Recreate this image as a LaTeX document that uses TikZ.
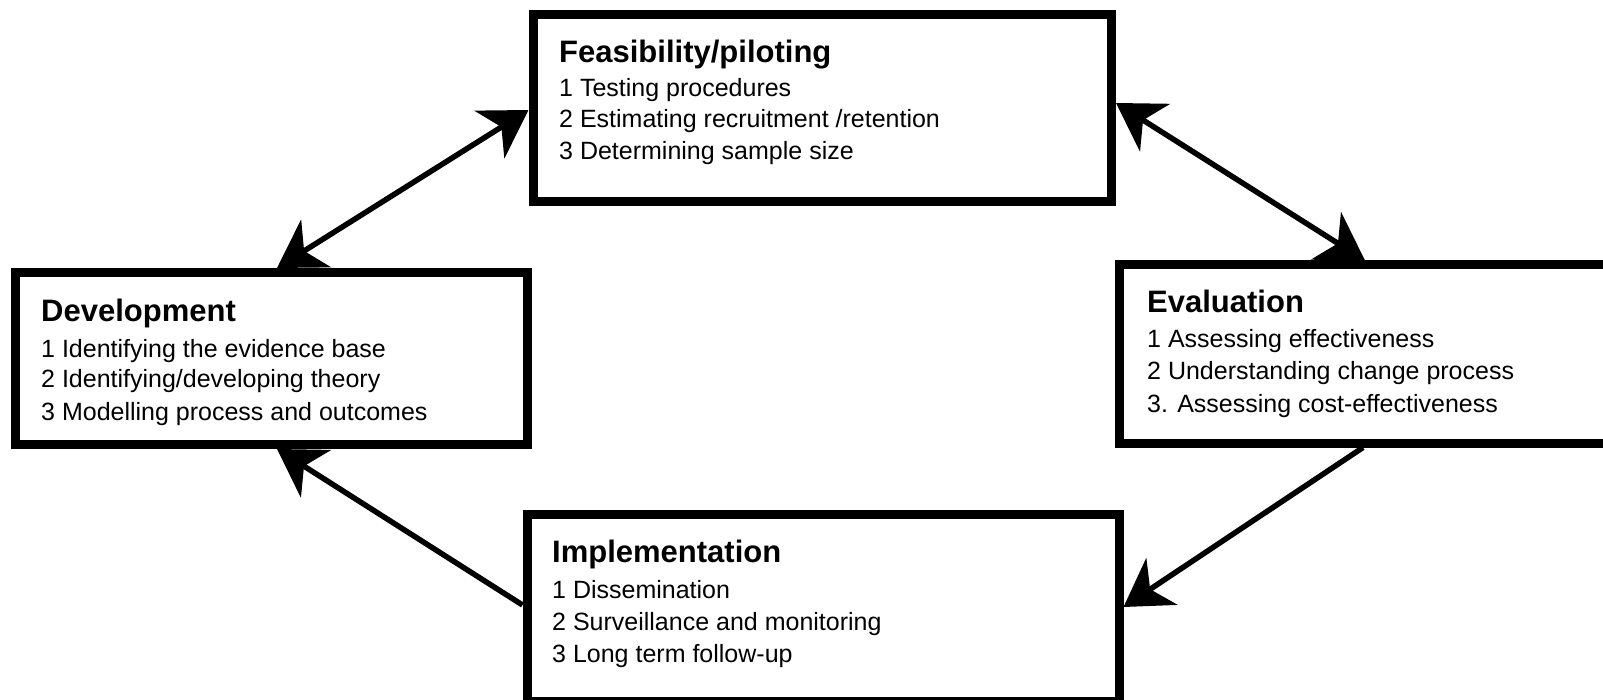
\documentclass[tikz,border=0pt]{standalone}
\usepackage{fontspec}
\setmainfont{Liberation Sans}
\usetikzlibrary{arrows.meta,calc}
\begin{document}
\begin{tikzpicture}[x=1pt,y=-1pt,
  box/.style={draw, line width=9pt, rectangle, inner sep=0pt},
  ttl/.style={anchor=base west, inner sep=0pt, font=\fontsize{31}{36}\selectfont\bfseries},
  txt/.style={anchor=base west, inner sep=0pt, font=\fontsize{25}{30}\selectfont},
  tip/.tip={Stealth[length=46pt,width=56pt,inset=14pt]},
  arr/.style={line width=5.5pt, -tip},
  darr/.style={line width=5.5pt, tip-tip}]
\useasboundingbox (0,0) rectangle (1603,700);
\clip (0,0) rectangle (1603,700);
\fill[white] (0,0) rectangle (1603,700);
% boxes
\node[box, minimum width=578.5pt, minimum height=187.5pt] (feas) at (822.25,108.25) {};
\node[box, minimum width=512pt, minimum height=172pt] (dev) at (271.5,358.5) {};
\node[box, minimum width=521pt, minimum height=178pt] (eval) at (1379.5,354) {};
\node[box, minimum width=592pt, minimum height=187.5pt] (impl) at (823,607.75) {};
% texts
\node[ttl] (f0) at (559,63) {Feasibility/piloting};
\node[txt] (f1) at (559,97) {1 Testing procedures};
\node[txt] (f2) at (559,128) {2 Estimating recruitment /retention};
\node[txt] (f3) at (559,160) {3 Determining sample size};
\node[ttl] (d0) at (41,322) {Development};
\node[txt] (d1) at (41,357) {1 Identifying the evidence base};
\node[txt] (d2) at (41,388) {2 Identifying/developing theory};
\node[txt] (d3) at (41,420) {3 Modelling process and outcomes};
\node[ttl] (e0) at (1147,313) {Evaluation};
\node[txt] (e1) at (1147,348) {1 Assessing effectiveness};
\node[txt] (e2) at (1147,380) {2 Understanding change process};
\node[txt] (e3) at (1147,412) {3. Assessing cost-effectiveness};
\node[ttl] (i0) at (552,562) {Implementation};
\node[txt] (i1) at (552,598) {1 Dissemination};
\node[txt] (i2) at (552,630) {2 Surveillance and monitoring};
\node[txt] (i3) at (552,662) {3 Long term follow-up};
% connectors
\draw[darr] ($(dev.north west)+(266,0)$) -- ($(feas.north west)+(0,100)$);
\draw[darr] ($(feas.north east)+(0,93)$) -- ($(eval.north west)+(250.5,0)$);
\draw[arr] ($(eval.south west)+(248.5,0)$) -- ($(impl.north east)+(0,97.5)$);
\draw[arr] ($(impl.north west)+(0,95.5)$) -- ($(dev.south west)+(266,0)$);
\end{tikzpicture}
\end{document}
